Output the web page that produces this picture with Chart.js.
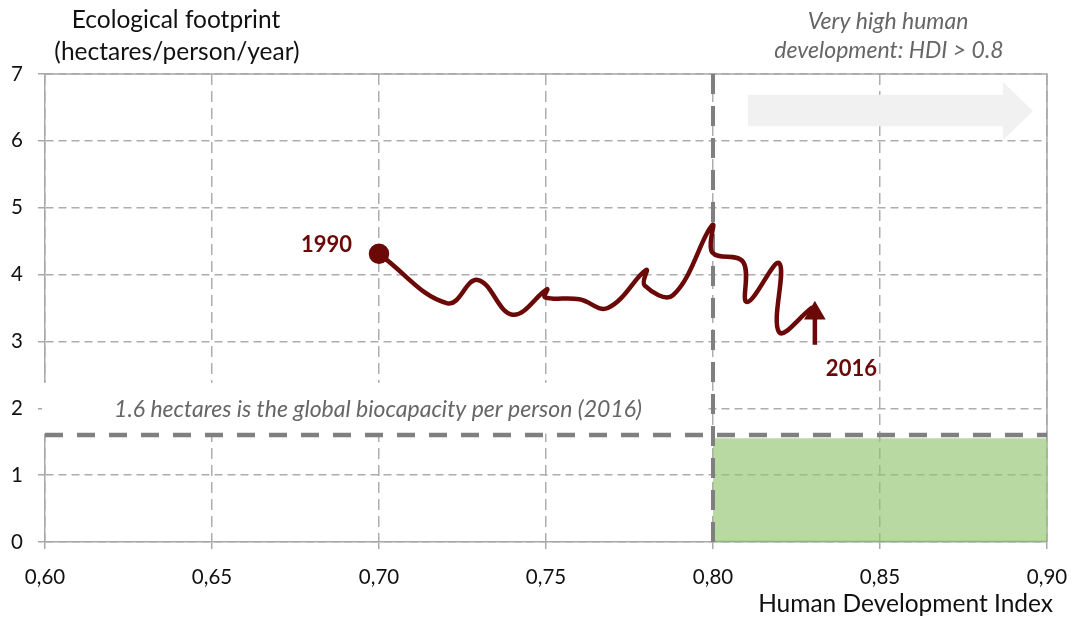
<!DOCTYPE html>
<html>
<head>
<meta charset="utf-8">
<script src="https://cdn.jsdelivr.net/npm/chart.js@4.4.1/dist/chart.umd.min.js"></script>
<style>
  html, body { margin: 0; padding: 0; background: #fff; }
  #wrap { width: 1073px; height: 617px; position: relative; }
</style>
</head>
<body>
<div id="wrap"><canvas id="hdi-chart"></canvas></div>
<script>
'use strict'

// Trayectoria 1990 -> 2016 (HDI, huella ecológica)
var hdiValues = [0.700, 0.7205, 0.7295, 0.740, 0.7503, 0.7497, 0.760, 0.7685, 0.780, 0.7795, 0.788, 0.7998, 0.7998, 0.809, 0.8102, 0.8198, 0.8198, 0.8295]
var footprintValues = [4.31, 3.57, 3.92, 3.40, 3.78, 3.66, 3.63, 3.50, 4.07, 3.84, 3.69, 4.74, 4.33, 4.19, 3.59, 4.17, 3.14, 3.50]

// flecha final (2016)
var arrowHdi = [0.8305, 0.8305]
var arrowFootprint = [2.95, 3.42]

var biocapacity = 1.6
var greenTop = 1.55
var hdiThreshold = 0.8
var xRange = [0.60, 0.90]
var yRange = [0, 7]

var yearLabels = ['1990', '2016']

function pts(xs, ys) {
  return xs.map(function (x, i) { return { x: x, y: ys[i] } })
}

var RED = '#6b0808'
var GREY_LINE = '#7f7f7f'
var GRID = '#adadad'
var FONT = 'Lato, "Open Sans", sans-serif'

// fondo: caja del área, recuadro blanco del texto y flecha gris
var backgroundPlugin = {
  id: 'background',
  beforeDatasetsDraw: function (chart) {
    var ctx = chart.ctx
    var a = chart.chartArea
    var xs = chart.scales.x
    var ys = chart.scales.y
    ctx.save()
    ctx.strokeStyle = '#a8a8a8'
    ctx.lineWidth = 1.5
    ctx.beginPath()
    ctx.moveTo(a.left, a.top)
    ctx.lineTo(a.right, a.top)
    ctx.lineTo(a.right, a.bottom)
    ctx.stroke()

    // recuadro blanco detrás del texto de biocapacidad
    var x1 = xs.getPixelForValue(0.60) - 3
    var x2 = xs.getPixelForValue(0.7985)
    var y1 = ys.getPixelForValue(2.38)
    var y2 = ys.getPixelForValue(1.62)
    ctx.fillStyle = '#ffffff'
    ctx.fillRect(x1, y1, x2 - x1, y2 - y1)

    // flecha gris "muy alto desarrollo"
    var ax0 = xs.getPixelForValue(0.8105)
    var ax1 = xs.getPixelForValue(0.8868)
    var ax2 = xs.getPixelForValue(0.8958)
    var sy0 = ys.getPixelForValue(6.69)
    var sy1 = ys.getPixelForValue(6.22)
    var hy0 = ys.getPixelForValue(6.88)
    var hy1 = ys.getPixelForValue(6.01)
    ctx.fillStyle = '#f1f1f1'
    ctx.beginPath()
    ctx.moveTo(ax0, sy0)
    ctx.lineTo(ax1, sy0)
    ctx.lineTo(ax1, hy0)
    ctx.lineTo(ax2, (hy0 + hy1) / 2)
    ctx.lineTo(ax1, hy1)
    ctx.lineTo(ax1, sy1)
    ctx.lineTo(ax0, sy1)
    ctx.closePath()
    ctx.fill()
    ctx.restore()
  }
}

// textos
var textPlugin = {
  id: 'texts',
  afterDraw: function (chart) {
    var ctx = chart.ctx
    var xs = chart.scales.x
    var ys = chart.scales.y
    ctx.save()
    ctx.textBaseline = 'middle'

    ctx.fillStyle = '#111'
    ctx.font = '24.5px ' + FONT
    ctx.textAlign = 'center'
    ctx.fillText('Ecological footprint', 176, 20)
    ctx.fillText('(hectares/person/year)', 177, 52)

    ctx.textAlign = 'right'
    ctx.fillText('Human Development Index', 1053, 604)

    ctx.fillStyle = '#666'
    ctx.font = 'italic 23px ' + FONT
    ctx.textAlign = 'center'
    ctx.fillText('Very high human', 888, 22)
    ctx.fillText('development: HDI > 0.8', 889, 51)

    ctx.font = 'italic 23px ' + FONT
    ctx.fillText('1.6 hectares is the global biocapacity per person (2016)', 378, ys.getPixelForValue(1.98))

    ctx.fillStyle = RED
    ctx.font = 'bold 22px ' + FONT
    ctx.textAlign = 'right'
    ctx.fillText(yearLabels[0], xs.getPixelForValue(hdiValues[0]) - 27, ys.getPixelForValue(footprintValues[0]) - 9)
    ctx.textAlign = 'left'
    ctx.fillText(yearLabels[1], xs.getPixelForValue(arrowHdi[0]) + 11, ys.getPixelForValue(arrowFootprint[0]) + 24)
    ctx.restore()
  }
}

var chartData = {
  datasets: [
    {
      label: 'Trayectoria',
      data: pts(hdiValues, footprintValues),
      showLine: true,
      borderColor: RED,
      backgroundColor: RED,
      borderWidth: 4.5,
      tension: 0.4,
      borderCapStyle: 'round',
      borderJoinStyle: 'round',
      pointRadius: function (c) { return c.dataIndex === 0 ? 8 : 0 },
      order: 0
    },
    {
      label: 'Flecha',
      data: pts(arrowHdi, arrowFootprint),
      showLine: true,
      borderColor: RED,
      backgroundColor: RED,
      borderWidth: 4.5,
      pointStyle: 'triangle',
      pointRadius: [0, 8],
      order: 1
    },
    {
      label: 'Biocapacidad',
      data: pts(xRange, [biocapacity, biocapacity]),
      showLine: true,
      borderColor: GREY_LINE,
      borderWidth: 4.5,
      borderDash: [18, 14],
      pointRadius: 0,
      order: 2
    },
    {
      label: 'HDI 0.8',
      data: pts([hdiThreshold, hdiThreshold], yRange),
      showLine: true,
      borderColor: GREY_LINE,
      borderWidth: 4,
      borderDash: [20, 12],
      pointRadius: 0,
      order: 3
    },
    {
      label: 'Zona sostenible',
      data: pts([hdiThreshold, xRange[1]], [greenTop, greenTop]),
      showLine: true,
      borderWidth: 0,
      borderColor: 'rgba(0,0,0,0)',
      backgroundColor: 'rgba(146,196,112,0.65)',
      fill: 'origin',
      pointRadius: 0,
      order: 5
    },
    {
      label: 'Base verde',
      data: pts([hdiThreshold, xRange[1]], [0, 0]),
      showLine: true,
      borderWidth: 2.5,
      borderColor: '#8db56f',
      pointRadius: 0,
      order: 4
    }
  ]
}

var chartOptions = {
  responsive: true,
  maintainAspectRatio: false,
  animation: false,
  layout: { padding: { top: 74, right: 26, left: 0, bottom: 0 } },
  plugins: {
    legend: { display: false },
    tooltip: { enabled: false }
  },
  scales: {
    x: {
      type: 'linear',
      min: xRange[0],
      max: xRange[1],
      afterFit: function (s) {
        s.height = 75
        s.paddingLeft = 0
        s.paddingRight = 0
      },
      ticks: {
        stepSize: 0.05,
        padding: 16,
        color: '#111',
        font: { family: FONT, size: 20.5 },
        callback: function (v) { return v.toFixed(2).replace('.', ',') }
      },
      grid: { color: GRID, lineWidth: 1.5, tickLength: 7, tickColor: '#a8a8a8' },
      border: { color: '#a8a8a8', width: 1.5, dash: [11, 6] }
    },
    y: {
      min: yRange[0],
      max: yRange[1],
      afterFit: function (s) { s.width = 45 },
      ticks: {
        stepSize: 1,
        padding: 15,
        color: '#111',
        font: { family: FONT, size: 20.5 }
      },
      grid: { color: GRID, lineWidth: 1.5, tickLength: 7, tickColor: '#a8a8a8' },
      border: { color: '#a8a8a8', width: 1.5, dash: [8, 5] }
    }
  }
}

var hdiChart = new Chart(document.getElementById('hdi-chart').getContext('2d'), {
  type: 'scatter',
  data: chartData,
  options: chartOptions,
  plugins: [backgroundPlugin, textPlugin]
})
</script>
</body>
</html>
